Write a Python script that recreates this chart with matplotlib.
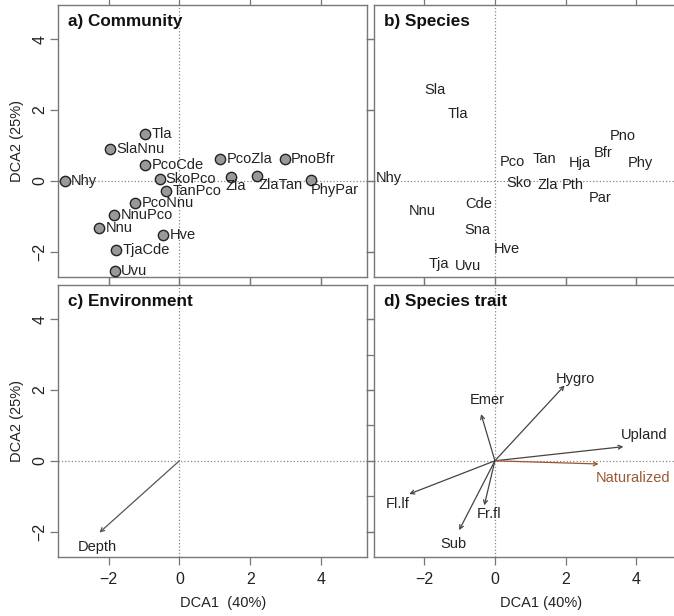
import numpy as np
import matplotlib
matplotlib.use('Agg')
import matplotlib.pyplot as plt

plt.rcParams['font.family'] = ['Liberation Sans', 'DejaVu Sans']

# a) Community - site scores
comm_names = ['Nhy', 'Tla', 'SlaNnu', 'PcoCde', 'SkoPco', 'TanPco', 'PcoNnu', 'NnuPco',
              'Nnu', 'Hve', 'TjaCde', 'Uvu', 'PcoZla', 'Zla', 'ZlaTan', 'PnoBfr', 'PhyPar']
comm_x = [-3.24, -0.96, -1.95, -0.96, -0.56, -0.38, -1.25, -1.84,
          -2.26, -0.46, -1.79, -1.83, 1.15, 1.46, 2.18, 2.98, 3.72]
comm_y = [0.0, 1.31, 0.91, 0.45, 0.04, -0.30, -0.63, -0.96,
          -1.34, -1.52, -1.95, -2.56, 0.61, 0.11, 0.14, 0.61, 0.02]

# b) Species scores
sp_names = ['Sla', 'Tla', 'Pno', 'Bfr', 'Phy', 'Hja', 'Tan', 'Pco', 'Nhy', 'Sko',
            'Zla', 'Pth', 'Par', 'Cde', 'Nnu', 'Sna', 'Hve', 'Tja', 'Uvu']
sp_x = [-1.68, -1.05, 3.62, 3.07, 4.12, 2.39, 1.41, 0.48, -3.0, 0.68,
        1.48, 2.2, 2.97, -0.45, -2.04, -0.51, 0.35, -1.58, -0.77]
sp_y = [2.58, 1.90, 1.28, 0.78, 0.49, 0.49, 0.63, 0.52, 0.09, -0.05,
        -0.12, -0.13, -0.49, -0.65, -0.86, -1.38, -1.92, -2.36, -2.42]

# c) Environment vector
env_names = ['Depth']
env_x = [-2.26]
env_y = [-2.03]
env_lab_x = [-2.32]
env_lab_y = [-2.43]

# d) Species trait vectors
tr_names = ['Hygro', 'Emer', 'Upland', 'Naturalized', 'Fl.lf', 'Fr.fl', 'Sub']
tr_x = [1.97, -0.39, 3.63, 2.93, -2.42, -0.30, -1.01]
tr_y = [2.13, 1.32, 0.40, -0.09, -0.94, -1.26, -1.96]
tr_lab_x = [2.28, -0.21, 4.23, 3.9, -2.74, -0.17, -1.17]
tr_lab_y = [2.32, 1.73, 0.72, -0.49, -1.22, -1.50, -2.34]

XLIM = (-3.43, 5.30)
YLIM = (-2.72, 4.97)
TICKS = [-2, 0, 2, 4]
FRAME = '#777777'
TXT = '#222222'
FS = 10.5

fig = plt.figure(figsize=(6.74, 6.16), dpi=100)
W, H = 674, 616
def add_ax(left, top, w=309, h=272):
    return fig.add_axes([left / W, 1 - (top + h) / H, w / W, h / H])

ax_a = add_ax(58, 5)
ax_b = add_ax(373.5, 5)
ax_c = add_ax(58, 285)
ax_d = add_ax(373.5, 285)

for ax, title in [(ax_a, 'a) Community'), (ax_b, 'b) Species'),
                  (ax_c, 'c) Environment'), (ax_d, 'd) Species trait')]:
    ax.set_xlim(XLIM)
    ax.set_ylim(YLIM)
    ax.set_xticks(TICKS)
    ax.set_yticks(TICKS)
    ax.axvline(0, color='#888888', ls=':', lw=0.9, zorder=1)
    ax.axhline(0, color='#888888', ls=':', lw=0.9, zorder=1)
    for s in ax.spines.values():
        s.set_color(FRAME)
        s.set_linewidth(1.0)
    ax.tick_params(direction='out', length=5.5, width=0.9, color=FRAME,
                   labelsize=11.5, labelcolor=TXT, pad=5,
                   top=True, right=True, labelbottom=False, labelleft=False)
    ax.text(10 / 309, 1 - 16.7 / 272, title, transform=ax.transAxes,
            fontsize=12.3, fontweight='bold', color='#111111', va='center', ha='left')

for ax in (ax_a, ax_c):
    ax.tick_params(axis='y', labelleft=True, pad=2)
    for lab in ax.get_yticklabels():
        lab.set_rotation(90)
        lab.set_va('center')
    ax.set_ylabel('DCA2 (25%)', fontsize=FS, color=TXT, labelpad=6)

for ax, lab, xc in [(ax_c, 'DCA1  (40%)', 0.534), (ax_d, 'DCA1 (40%)', 0.542)]:
    ax.tick_params(axis='x', labelbottom=True)
    ax.set_xlabel(lab, fontsize=FS, color=TXT, labelpad=7)
    ax.xaxis.label.set_x(xc)

# panel d: odd ticks on the left, green bottom ticks
ax_d.set_yticks([-2, -1, 0, 1, 2, 3, 4])
for t in ax_d.xaxis.get_major_ticks():
    t.tick1line.set_color('#8fc08f')

# panel a
ax_a.scatter(comm_x, comm_y, s=55, c='#999999', edgecolors='#222222', linewidths=1.0, zorder=3)
below = {'Zla': (5, -9), 'ZlaTan': (24, -9), 'PhyPar': (24, -10)}
for n, x, y in zip(comm_names, comm_x, comm_y):
    if n in below:
        dx, dy = below[n]
        ax_a.annotate(n, (x, y), xytext=(dx / 1.389, dy / 1.389), textcoords='offset points',
                      ha='center', va='center', fontsize=FS, color=TXT)
    else:
        ax_a.annotate(n, (x, y), xytext=(4.5, 0), textcoords='offset points',
                      ha='left', va='center', fontsize=FS, color=TXT)

# panel b
for n, x, y in zip(sp_names, sp_x, sp_y):
    ax_b.text(x, y, n, ha='center', va='center', fontsize=FS, color=TXT)

def vec(ax, x, y, color):
    ax.annotate('', xy=(x, y), xytext=(0, 0),
                arrowprops=dict(arrowstyle='->', color=color, lw=0.9,
                                shrinkA=0, shrinkB=0, mutation_scale=7))

# panel c
for n, x, y, lx, ly in zip(env_names, env_x, env_y, env_lab_x, env_lab_y):
    vec(ax_c, x, y, '#555555')
    ax_c.text(lx, ly, n, ha='center', va='center', fontsize=FS, color=TXT)

# panel d
for n, x, y, lx, ly in zip(tr_names, tr_x, tr_y, tr_lab_x, tr_lab_y):
    col = '#a0522d' if n == 'Naturalized' else '#444444'
    vec(ax_d, x, y, col)
    ax_d.text(lx, ly, n, ha='center', va='center', fontsize=FS,
              color='#9a5a33' if n == 'Naturalized' else TXT)

fig.savefig('out.png', dpi=100)
